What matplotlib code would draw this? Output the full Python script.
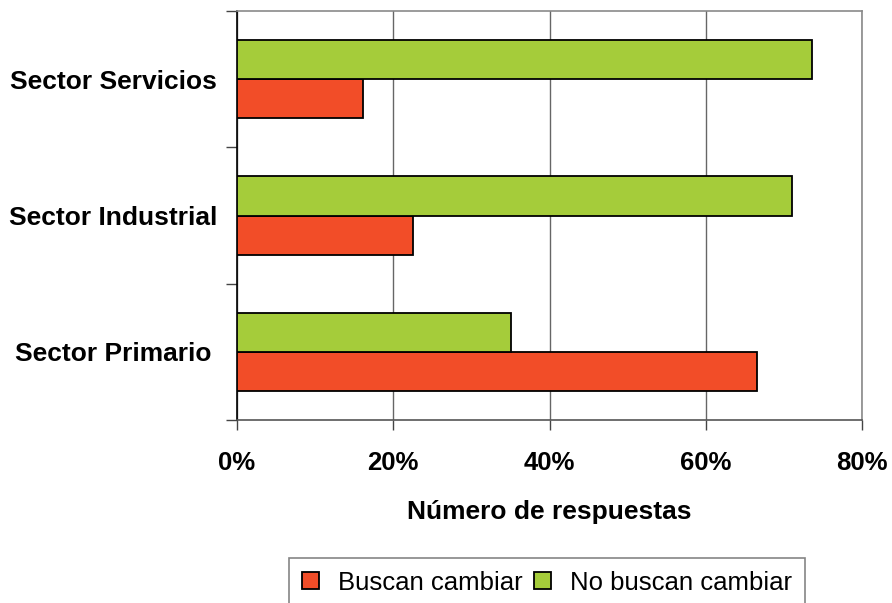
import numpy as np
import matplotlib
matplotlib.use("Agg")
import matplotlib.pyplot as plt
from matplotlib.ticker import FixedLocator, PercentFormatter

# data (percent of answers)
sectores = ["Sector Primario", "Sector Industrial", "Sector Servicios"]
buscan = [66.6, 22.5, 16.1]
no_buscan = [35.1, 71.0, 73.6]
series_names = ["Buscan cambiar", "No buscan cambiar"]
x_ticks = [0, 20, 40, 60, 80]

RED = "#F24D28"
GREEN = "#A5CC3A"

plt.rcParams["font.family"] = ["Liberation Sans", "DejaVu Sans"]

fig = plt.figure(figsize=(8.92, 6.03), dpi=100)
ax = fig.add_axes([237 / 892, 1 - 420 / 603, (862 - 237) / 892, (420 - 11) / 603])

y = np.arange(len(sectores))
h = 0.287
ax.barh(y - h / 2, buscan, height=h, color=RED, edgecolor="black", linewidth=1.3,
        label=series_names[0], zorder=3)
ax.barh(y + h / 2, no_buscan, height=h, color=GREEN, edgecolor="black", linewidth=1.3,
        label=series_names[1], zorder=3)

ax.set_xlim(0, 80)
ax.set_ylim(-0.5, len(sectores) - 0.5)

# x axis
ax.set_xticks(x_ticks)
ax.xaxis.set_major_formatter(PercentFormatter(decimals=0))
ax.tick_params(axis="x", direction="out", length=7, width=1, color="#444444",
               pad=15, labelsize=18.5)
for lab in ax.get_xticklabels():
    lab.set_fontweight("bold")
ax.xaxis.grid(True, color="#666666", linewidth=1, zorder=0)
ax.set_xlabel("Número de respuestas", fontsize=19, fontweight="bold", labelpad=18)

# y axis: labels centered at category, ticks at the boundaries
ax.set_yticks(y)
ax.set_yticklabels(sectores, fontsize=19, fontweight="bold", ha="center")
ax.tick_params(axis="y", which="major", length=0, pad=89)
ax.yaxis.set_minor_locator(FixedLocator(np.arange(-0.5, len(sectores), 1.0)))
ax.tick_params(axis="y", which="minor", direction="out", length=8, width=1, color="#444444")

ax.spines["left"].set_color("black")
ax.spines["bottom"].set_color("#555555")
ax.spines["top"].set_color("#8a8a8a")
ax.spines["right"].set_color("#8a8a8a")
for s in ax.spines.values():
    s.set_linewidth(1.2)

leg = fig.legend(loc="upper center", bbox_to_anchor=(547 / 892, 1 - 558 / 603),
                 ncol=2, fontsize=18.5, frameon=True, fancybox=False,
                 handlelength=0.65, handleheight=0.65, handletextpad=0.75,
                 columnspacing=0.45, borderpad=0.5, borderaxespad=0)
leg.get_frame().set_edgecolor("#666666")
leg.get_frame().set_linewidth(1.2)

fig.savefig("out.png", dpi=100)
